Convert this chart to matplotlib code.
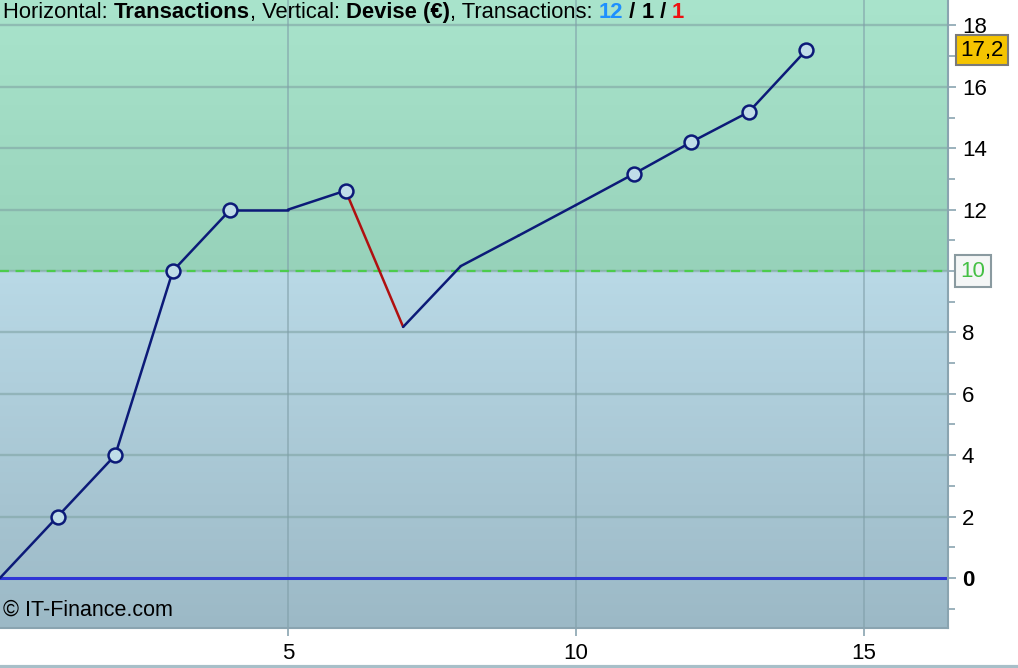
import numpy as np
import matplotlib
matplotlib.use("Agg")
import matplotlib.pyplot as plt
from matplotlib.colors import LinearSegmentedColormap

plt.rcParams['font.family'] = ['Liberation Sans', 'DejaVu Sans']

# equity curve per transaction
trades = [0, 1, 2, 3, 4, 5, 6, 7, 8, 9, 10, 11, 12, 13, 14]
equity = [0, 2, 4, 10, 12, 12, 12.62, 8.18, 10.16, 11.15, 12.15, 13.16, 14.2, 15.18, 17.2]
high_marks = [1, 2, 3, 4, 6, 11, 12, 13, 14]   # new equity highs
loss_trades = [7]                               # losing trade ends here
start_capital = 10
last_value = "17,2"
n_win, n_flat, n_loss = 12, 1, 1
yticks = list(range(0, 19, 2))
xticks = [5, 10, 15]

xlim = (0, 16.46)
ylim = (-1.63, 18.83)

fig = plt.figure(figsize=(10.18, 6.68), dpi=100)
fig.patch.set_facecolor('white')
ax = fig.add_axes([0, 40 / 668, 948 / 1018, 628 / 668])
ax.set_xlim(*xlim)
ax.set_ylim(*ylim)

# backgrounds
green = LinearSegmentedColormap.from_list('g', ['#97d2ba', '#a9e4cc'])
blue = LinearSegmentedColormap.from_list('b', ['#9cb9c6', '#b9d9e6'])
grad = np.linspace(0, 1, 256).reshape(-1, 1)
ax.imshow(grad, cmap=green, origin='lower', aspect='auto',
          extent=[xlim[0], xlim[1], start_capital, ylim[1]], zorder=0)
ax.imshow(grad, cmap=blue, origin='lower', aspect='auto',
          extent=[xlim[0], xlim[1], ylim[0], start_capital], zorder=0)
ax.set_xlim(*xlim)
ax.set_ylim(*ylim)

# grid
for y in yticks[1:]:
    ax.axhline(y, color='#80a4a4', lw=1.7, alpha=0.6, zorder=1)
for x in xticks:
    ax.axvline(x, color='#7f9ea8', lw=1.2, alpha=0.65, zorder=1)

ax.axhline(0, color='#2f35d6', lw=2.2, zorder=2)
ax.axhline(start_capital, color='#4ccc4c', lw=1.6, ls=(0, (4, 3)), zorder=2)

# equity line, red on losing trades
for i in range(1, len(trades)):
    c = '#b01010' if trades[i] in loss_trades else '#0c1a78'
    ax.plot(trades[i - 1:i + 1], equity[i - 1:i + 1], color=c, lw=1.8,
            zorder=3, solid_capstyle='round')
mx = [trades[i] for i in high_marks]
my = [equity[i] for i in high_marks]
ax.plot(mx, my, 'o', ms=10, mfc='#c0dde8', mec='#0c1a78', mew=1.8, zorder=4)

# axes
for s in ['top', 'left']:
    ax.spines[s].set_visible(False)
ax.spines['right'].set_color('#8aa4b0')
ax.spines['right'].set_linewidth(1.5)
ax.spines['bottom'].set_color('#8aa4b0')
ax.spines['bottom'].set_linewidth(1.5)
ax.yaxis.tick_right()
ax.set_yticks(yticks)
# the start capital box sits where the "10" label would be
ax.set_yticklabels(['' if v == start_capital else str(v) for v in yticks])
ax.set_yticks(range(-1, 19, 2), minor=True)
ax.set_xticks(xticks)
ax.tick_params(axis='y', which='major', length=6, width=1.2, color='#8aa4b0',
               labelsize=16, pad=4)
ax.tick_params(axis='y', which='minor', length=5, width=1.2, color='#8aa4b0')
ax.tick_params(axis='x', length=6, width=1.2, color='#8aa4b0', labelsize=16, pad=5)
for lab in ax.get_yticklabels():
    if lab.get_text() == '0':
        lab.set_fontweight('bold')

# value boxes on the right axis
ax.text(1.013, (17.2 - ylim[0]) / (ylim[1] - ylim[0]), last_value,
        transform=ax.transAxes, fontsize=16, va='center', ha='left',
        color='black', zorder=6, clip_on=False,
        bbox=dict(boxstyle='square,pad=0.2', fc='#f5c400', ec='#7a7a7a', lw=1.5))
ax.text(1.013, (start_capital - ylim[0]) / (ylim[1] - ylim[0]), str(start_capital),
        transform=ax.transAxes, fontsize=16, va='center', ha='left',
        color='#44c044', zorder=6, clip_on=False,
        bbox=dict(boxstyle='square,pad=0.25', fc='#f4f6f6', ec='#8a9aa0', lw=1.5))

# header
parts = [("Horizontal: ", 'normal', 'black'), ("Transactions", 'bold', 'black'),
         (", Vertical: ", 'normal', 'black'), ("Devise (€)", 'bold', 'black'),
         (", Transactions: ", 'normal', 'black'), (str(n_win), 'bold', '#1e90ff'),
         (" / ", 'bold', 'black'), (str(n_flat), 'bold', 'black'),
         (" / ", 'bold', 'black'), (str(n_loss), 'bold', '#ee1111')]
fig.canvas.draw()
r = fig.canvas.get_renderer()
xpx = 3
for txt, w, c in parts:
    t = fig.text(xpx / 1018, 1 - 2 / 668, txt, fontsize=15.8, fontweight=w,
                 color=c, va='top', ha='left')
    xpx += t.get_window_extent(r).width

ax.text(0.003, 0.012, "© IT-Finance.com", transform=ax.transAxes, fontsize=15.5,
        va='bottom', ha='left', color='black')

fig.add_artist(plt.Line2D([0, 1], [1.5 / 668, 1.5 / 668], color='#a7bfc8', lw=3))

fig.savefig('out.png', dpi=100)
